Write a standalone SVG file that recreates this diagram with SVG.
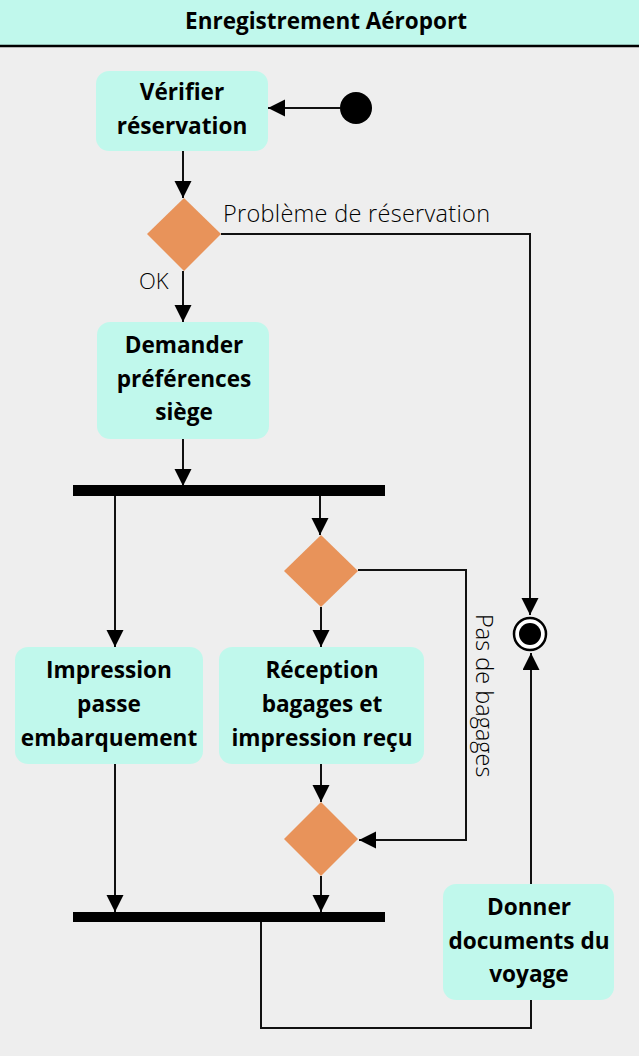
<svg xmlns="http://www.w3.org/2000/svg" width="639" height="1056" viewBox="0 0 639 1056">
<style>
.node rect{fill:#c0f8ec;stroke:none}
.lbl{font-family:"Open Sans","Noto Sans",sans-serif;font-weight:bold;font-size:22.6px;fill:#000;text-anchor:middle}
.edge{fill:none;stroke:#111;stroke-width:2}
.elbl{font-family:"Open Sans","Noto Sans",sans-serif;font-weight:300;font-size:23.5px;fill:#000}
.dia{fill:#e8935a}
</style>
<defs>
<marker id="arr" markerUnits="userSpaceOnUse" markerWidth="18" markerHeight="18" refX="17" refY="8.5" orient="auto">
<path d="M0,0 L17,8.5 L0,17 z" fill="#000"/>
</marker>
</defs>
<rect x="0" y="0" width="639" height="1056" fill="#eeeeee"/>
<g id="header">
<rect x="0" y="0" width="639" height="46" fill="#c0f8ec"/>
<line x1="0" y1="46" x2="639" y2="46" stroke="#000" stroke-width="2.5"/>
<text x="326" y="29" class="lbl" style="font-size:22.5px">Enregistrement Aéroport</text>
</g>
<g id="connectors">
<line class="edge" x1="340" y1="108" x2="268" y2="108" marker-end="url(#arr)"/>
<line class="edge" x1="183" y1="151" x2="183" y2="198" marker-end="url(#arr)"/>
<polyline class="edge" points="221,234 530,234 530,615" marker-end="url(#arr)"/>
<line class="edge" x1="183" y1="271" x2="183" y2="322" marker-end="url(#arr)"/>
<line class="edge" x1="183" y1="439" x2="183" y2="486" marker-end="url(#arr)"/>
<line class="edge" x1="115" y1="496" x2="115" y2="647" marker-end="url(#arr)"/>
<line class="edge" x1="320" y1="496" x2="320" y2="535" marker-end="url(#arr)"/>
<line class="edge" x1="321" y1="607" x2="321" y2="647" marker-end="url(#arr)"/>
<polyline class="edge" points="358,570 466,570 466,840 359,840" marker-end="url(#arr)"/>
<line class="edge" x1="321" y1="764" x2="321" y2="802" marker-end="url(#arr)"/>
<line class="edge" x1="321" y1="876" x2="321" y2="912" marker-end="url(#arr)"/>
<line class="edge" x1="115" y1="764" x2="115" y2="912" marker-end="url(#arr)"/>
<polyline class="edge" points="261,922 261,1028 531,1028 531,1000"/>
<line class="edge" x1="531" y1="884" x2="531" y2="653" marker-end="url(#arr)"/>
<text class="elbl" x="223" y="222" textLength="267" lengthAdjust="spacing">Problème de réservation</text>
<text class="elbl" x="139" y="289" style="font-size:22px">OK</text>
<text class="elbl" transform="translate(476,614) rotate(90)">Pas de bagages</text>
</g>
<g id="start"><circle cx="356" cy="108" r="16" fill="#000"/></g>
<g id="end">
<circle cx="530" cy="634" r="16" fill="#fff" stroke="#000" stroke-width="2.5"/>
<circle cx="530" cy="634" r="11" fill="#000"/>
</g>
<g id="verifier" class="node">
<rect x="96" y="71" width="172" height="80" rx="13"/>
<text class="lbl" x="182" y="100">Vérifier</text>
<text class="lbl" x="182" y="134">réservation</text>
</g>
<g id="decision1"><polygon class="dia" points="184,198 221,234 184,271 147,234"/></g>
<g id="demander" class="node">
<rect x="97" y="322" width="172" height="117" rx="13"/>
<text class="lbl" x="184" y="353">Demander</text>
<text class="lbl" x="184" y="387">préférences</text>
<text class="lbl" x="184" y="420">siège</text>
</g>
<g id="fork"><rect x="73" y="485" width="312" height="11" fill="#000"/></g>
<g id="decision2"><polygon class="dia" points="321,535 358,571 321,607 284,571"/></g>
<g id="impression" class="node">
<rect x="15" y="647" width="188" height="117" rx="13"/>
<text class="lbl" x="109" y="678">Impression</text>
<text class="lbl" x="109" y="712">passe</text>
<text class="lbl" x="109" y="746">embarquement</text>
</g>
<g id="reception" class="node">
<rect x="219" y="647" width="205" height="117" rx="13"/>
<text class="lbl" x="322" y="678">Réception</text>
<text class="lbl" x="322" y="712">bagages et</text>
<text class="lbl" x="322" y="746">impression reçu</text>
</g>
<g id="decision3"><polygon class="dia" points="321,802 358,839 321,876 284,839"/></g>
<g id="join"><rect x="73" y="912" width="312" height="10" fill="#000"/></g>
<g id="donner" class="node">
<rect x="443" y="884" width="171" height="116" rx="13"/>
<text class="lbl" x="529" y="915">Donner</text>
<text class="lbl" x="529" y="949">documents du</text>
<text class="lbl" x="529" y="982">voyage</text>
</g>
</svg>
